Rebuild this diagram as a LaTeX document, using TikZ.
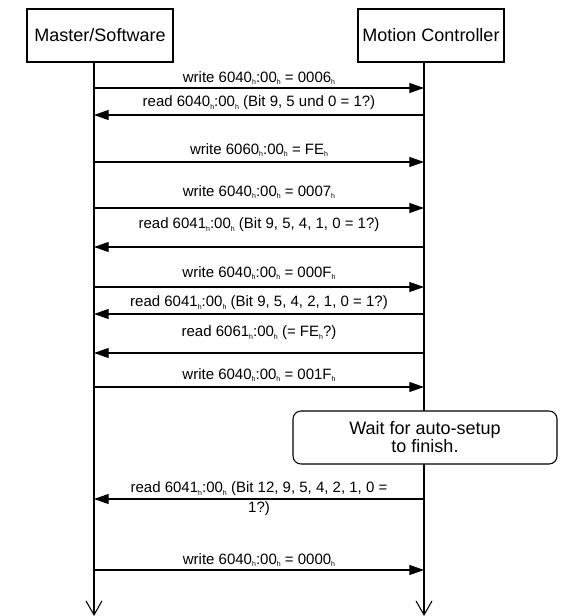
\documentclass[tikz,border=0pt]{standalone}
\usepackage{fontspec}
\setmainfont{Liberation Sans}
\usetikzlibrary{arrows.meta}
\newcommand{\hx}{\raisebox{-2pt}{\fontsize{5.25}{6}\selectfont h}}

\begin{document}
\begin{tikzpicture}[x=0.75pt, y=-0.75pt,
		actor/.style={draw, line width=0.8pt, minimum width=109.5pt, minimum height=39.75pt, inner sep=0pt, font=\fontsize{13.5}{13.5}\selectfont},
		life/.style={line width=0.8pt, -{Straight Barb[length=10.5pt,width=12pt]}},
		msg/.style={line width=0.8pt, -{Triangle[length=11pt,width=7.5pt]}},
		lbl/.style={font=\fontsize{11.25}{15}\selectfont, inner sep=0pt, align=center},
		waitbox/.style={draw, fill=white, rounded corners=6pt, line width=0.8pt, minimum width=198pt, minimum height=39.75pt, align=center, font=\fontsize{13.5}{13.5}\selectfont}]
		
		\useasboundingbox (0,0) rectangle (582,616);
		
		% the two parties
		\node[actor] (master) at (100,35.5) {Master/Software};
		\node[actor] (motion) at (431,35.5) {Motion Controller};
		
		% lifelines
		\coordinate (msEnd) at (94,616);
		\coordinate (mcEnd) at (424,616);
		\draw[life] (master.south -| msEnd) -- (msEnd);
		\draw[life] (motion.south -| mcEnd) -- (mcEnd);
		
		% messages
		\node[lbl] (w1) at (259,78) {write 6040\hx:00\hx{} = 0006\hx};
		\coordinate (w1s) at (94,88); \coordinate (w1e) at (424,88);
		\draw[msg] (w1s) -- (w1e);
		
		\node[lbl] (r1) at (259,103) {read 6040\hx:00\hx{} (Bit 9, 5 und 0 = 1?)};
		\coordinate (r1s) at (424,115); \coordinate (r1e) at (94,115);
		\draw[msg] (r1s) -- (r1e);
		
		\node[lbl] (w2) at (259,150) {write 6060\hx:00\hx{} = FE\hx};
		\coordinate (w2s) at (94,162); \coordinate (w2e) at (424,162);
		\draw[msg] (w2s) -- (w2e);
		
		\node[lbl] (w3) at (259,192) {write 6040\hx:00\hx{} = 0007\hx};
		\coordinate (w3s) at (94,208); \coordinate (w3e) at (424,208);
		\draw[msg] (w3s) -- (w3e);
		
		\node[lbl] (r2) at (259,225) {read 6041\hx:00\hx{} (Bit 9, 5, 4, 1, 0 = 1?)};
		\coordinate (r2s) at (424,247); \coordinate (r2e) at (94,247);
		\draw[msg] (r2s) -- (r2e);
		
		\node[lbl] (w4) at (259,273) {write 6040\hx:00\hx{} = 000F\hx};
		\coordinate (w4s) at (94,287); \coordinate (w4e) at (424,287);
		\draw[msg] (w4s) -- (w4e);
		
		\node[lbl] (r3) at (259,303) {read 6041\hx:00\hx{} (Bit 9, 5, 4, 2, 1, 0 = 1?)};
		\coordinate (r3s) at (424,314); \coordinate (r3e) at (94,314);
		\draw[msg] (r3s) -- (r3e);
		
		\node[lbl] (r4) at (259,333) {read 6061\hx:00\hx{} (= FE\hx?)};
		\coordinate (r4s) at (424,353); \coordinate (r4e) at (94,353);
		\draw[msg] (r4s) -- (r4e);
		
		\node[lbl] (w5) at (259,375) {write 6040\hx:00\hx{} = 001F\hx};
		\coordinate (w5s) at (94,387); \coordinate (w5e) at (424,387);
		\draw[msg] (w5s) -- (w5e);
		
		% waiting on the controller side
		\node[waitbox] (wait) at (425,437.5) {Wait for auto-setup\\to finish.};
		
		\node[lbl] (r5) at (259,499) {read 6041\hx:00\hx{} (Bit 12, 9, 5, 4, 2, 1, 0 =\\1?)};
		\coordinate (r5s) at (424,499); \coordinate (r5e) at (94,499);
		\draw[msg] (r5s) -- (r5e);
		
		\node[lbl] (w6) at (259,560) {write 6040\hx:00\hx{} = 0000\hx};
		\coordinate (w6s) at (94,570); \coordinate (w6e) at (424,570);
		\draw[msg] (w6s) -- (w6e);
		
\end{tikzpicture}
\end{document}
